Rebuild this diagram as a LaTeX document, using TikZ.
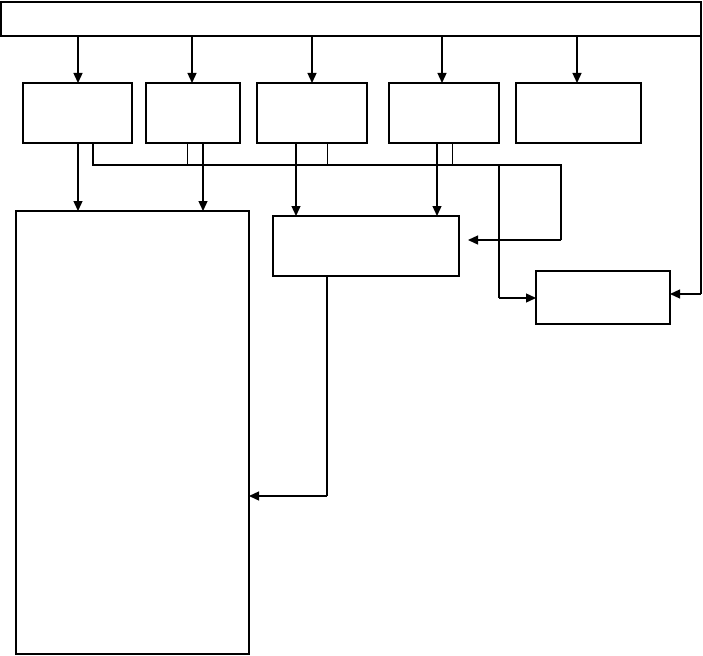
\documentclass[tikz,border=0pt]{standalone}
\usetikzlibrary{arrows.meta,calc}
\begin{document}
\begin{tikzpicture}[x=1pt,y=-1pt,
  box/.style={draw=black,line width=1.6pt,fill=white,inner sep=0pt,outer sep=0pt},
  arr/.style={line width=1.3pt,-{Triangle[length=10pt,width=9pt]}},
  thinline/.style={line width=1pt},
  thickline/.style={line width=2.4pt}]
\useasboundingbox (0,0) rectangle (703,655);
\node[box,line width=2.2pt,minimum width=700,minimum height=34] (top) at (351,19) {};
\node[box,minimum width=109,minimum height=60] (b1) at (77.5,113) {};
\node[box,minimum width=94,minimum height=60] (b2) at (193,113) {};
\node[box,minimum width=110,minimum height=60] (b3) at (312,113) {};
\node[box,minimum width=110,minimum height=60] (b4) at (444,113) {};
\node[box,minimum width=125,minimum height=60] (b5) at (578.5,113) {};
\node[box,minimum width=233,minimum height=443] (L) at (132.5,432.5) {};
\node[box,minimum width=186,minimum height=60] (M) at (366,246) {};
\node[box,minimum width=134,minimum height=53] (R) at (603,297.5) {};
% x guides
\coordinate (xa) at (78,0);
\coordinate (xb) at (192,0);
\coordinate (xc) at (312,0);
\coordinate (xd) at (442,0);
\coordinate (xe) at (577,0);
\coordinate (x1a) at (78,0);
\coordinate (x1b) at (93,0);
\coordinate (x2a) at (187,0);
\coordinate (x2b) at (203,0);
\coordinate (x3a) at (296,0);
\coordinate (x3b) at (327,0);
\coordinate (x4a) at (437,0);
\coordinate (x4b) at (452,0);
\coordinate (busY) at (0,165);
\coordinate (busE) at (561,165);
\coordinate (mIn) at (468,240);
\coordinate (rDrop) at (499,165);
\coordinate (rTurn) at (499,298);
\coordinate (topR) at (701,36);
\coordinate (topRturn) at (701,294);
\coordinate (mTurn) at (327,496);
% top arrows
\draw[arr] (top.south -| xa) -- (b1.north -| xa);
\draw[arr] (top.south -| xb) -- (b2.north -| xb);
\draw[arr] (top.south -| xc) -- (b3.north -| xc);
\draw[arr] (top.south -| xd) -- (b4.north -| xd);
\draw[arr] (top.south -| xe) -- (b5.north -| xe);
% arrows to L and M
\draw[arr] (b1.south -| x1a) -- (L.north -| x1a);
\draw[arr] (b2.south -| x2b) -- (L.north -| x2b);
\draw[arr] (b3.south -| x3a) -- (M.north -| x3a);
\draw[arr] (b4.south -| x4a) -- (M.north -| x4a);
% tie lines to bus
\draw[thinline] (b2.south -| x2a) -- (busY -| x2a);
\draw[thinline] (b3.south -| x3b) -- (busY -| x3b);
\draw[thinline] (b4.south -| x4b) -- (busY -| x4b);
% bus
\draw[thickline] (b1.south -| x1b) -- (busY -| x1b) -- (busE) -- (busE |- mIn);
\draw[arr] (busE |- mIn) -- (mIn);
\draw[thickline] (rDrop) -- (rTurn);
\draw[arr] (rTurn) -- (R.west |- rTurn);
% right edge of top bar down to R
\draw[line width=1.3pt] (topR) -- (topRturn);
\draw[arr] (topRturn) -- (R.east |- topRturn);
% M to L
\draw[line width=1.3pt] (M.south -| mTurn) -- (mTurn);
\draw[arr] (mTurn) -- (L.east |- mTurn);
\end{tikzpicture}
\end{document}
